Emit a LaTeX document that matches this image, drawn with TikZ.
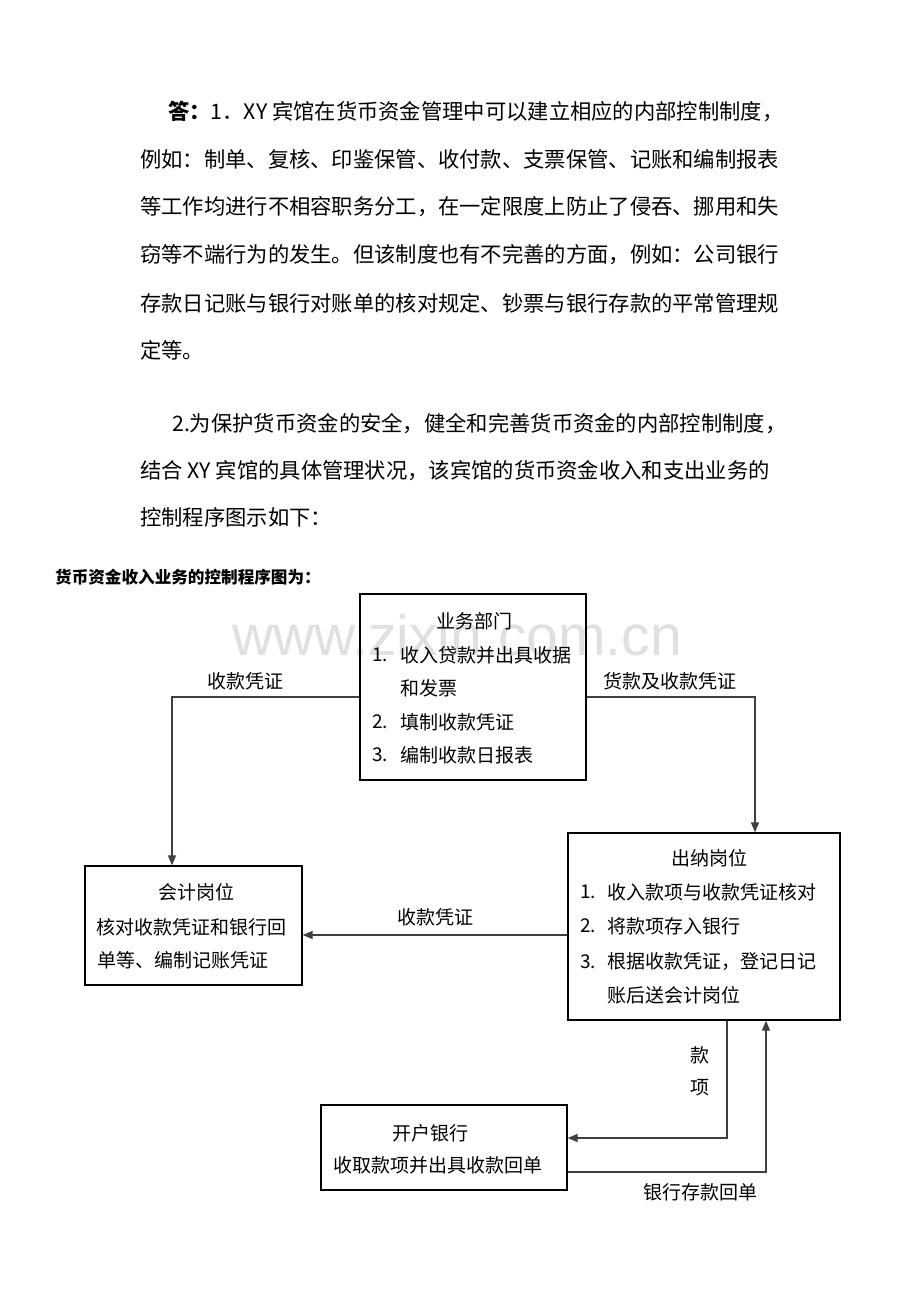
\documentclass[tikz,border=0pt]{standalone}
\usepackage{fontspec}
\setmainfont{Noto Sans CJK SC}
\newfontfamily\wmfont{Liberation Sans}
\usetikzlibrary{arrows.meta}
\begin{document}
\begin{tikzpicture}[x=1pt,y=-1pt,
  box/.style={draw=black, line width=1.3pt, inner sep=0pt, rectangle},
  txt/.style={inner sep=0pt, font=\fontsize{19}{19}\selectfont},
  para/.style={inner sep=0pt, anchor=west, font=\fontsize{21.3}{21.3}\selectfont},
  flow/.style={draw=black!75, line width=1.3pt, -{Triangle[length=10pt,width=8pt]}},
  lbl/.style={inner sep=0pt, font=\fontsize{19}{19}\selectfont}]
\fill[white] (0,0) rectangle (920,1302);
\useasboundingbox (0,0) rectangle (920,1302);

% watermark
\node[inner sep=0pt, text=black!12, font=\wmfont\fontsize{57}{57}\selectfont] (wm) at (457,635) {www.zixin.com.cn};

% paragraphs
\node[para] (p1) at (168,111) {\textbf{答：}1．XY 宾馆在货币资金管理中可以建立相应的内部控制制度，};
\node[para] (p2) at (140,159) {例如：制单、复核、印鉴保管、收付款、支票保管、记账和编制报表};
\node[para] (p3) at (140,207) {等工作均进行不相容职务分工，在一定限度上防止了侵吞、挪用和失};
\node[para] (p4) at (140,255) {窃等不端行为的发生。但该制度也有不完善的方面，例如：公司银行};
\node[para] (p5) at (140,303) {存款日记账与银行对账单的核对规定、钞票与银行存款的平常管理规};
\node[para] (p6) at (140,350) {定等。};
\node[para] (q1) at (172,424) {2.为保护货币资金的安全，健全和完善货币资金的内部控制制度，};
\node[para] (q2) at (140,471) {结合 XY 宾馆的具体管理状况，该宾馆的货币资金收入和支出业务的};
\node[para] (q3) at (140,517) {控制程序图示如下：};

% heading
\node[inner sep=0pt, anchor=west, font=\bfseries\fontsize{16.6}{16.6}\selectfont] (hd) at (55,577) {货币资金收入业务的控制程序图为：};

% boxes
\node[box, minimum width=226pt, minimum height=186pt] (yw) at (473,687) {};
\node[box, minimum width=272pt, minimum height=187pt] (cn) at (704,926.5) {};
\node[box, minimum width=217pt, minimum height=119pt] (kj) at (193.5,925.5) {};
\node[box, minimum width=246pt, minimum height=85pt] (kh) at (444,1147.5) {};

% text in 业务部门
\node[txt] (yw0) at (474,621) {业务部门};
\node[txt, anchor=west] (yw1n) at (372,655) {1.};
\node[txt, anchor=west] (yw1) at (400,655) {收入贷款并出具收据};
\node[txt, anchor=west] (yw1b) at (400,688) {和发票};
\node[txt, anchor=west] (yw2n) at (372,722) {2.};
\node[txt, anchor=west] (yw2) at (400,722) {填制收款凭证};
\node[txt, anchor=west] (yw3n) at (372,755) {3.};
\node[txt, anchor=west] (yw3) at (400,755) {编制收款日报表};

% text in 出纳岗位
\node[txt] (cn0) at (709,858) {出纳岗位};
\node[txt, anchor=west] (cn1n) at (580,892) {1.};
\node[txt, anchor=west] (cn1) at (607,892) {收入款项与收款凭证核对};
\node[txt, anchor=west] (cn2n) at (580,926) {2.};
\node[txt, anchor=west] (cn2) at (607,926) {将款项存入银行};
\node[txt, anchor=west] (cn3n) at (580,962) {3.};
\node[txt, anchor=west] (cn3) at (607,962) {根据收款凭证，登记日记};
\node[txt, anchor=west] (cn3b) at (607,995) {账后送会计岗位};

% text in 会计岗位
\node[txt] (kj0) at (196,892) {会计岗位};
\node[txt] (kj1) at (191,927) {核对收款凭证和银行回};
\node[txt, anchor=west] (kj2) at (97,960) {单等、编制记账凭证};

% text in 开户银行
\node[txt] (kh0) at (430,1133) {开户银行};
\node[txt] (kh1) at (438,1165) {收取款项并出具收款回单};

% connectors
\draw[flow] ([yshift=-10pt]yw.west) -| ([xshift=-21.5pt]kj.north);
\draw[flow] ([yshift=-10pt]yw.east) -| ([xshift=51pt]cn.north);
\draw[flow] ([yshift=-8.5pt]cn.west) -- ([yshift=-9.5pt]kj.east);
\draw[flow] ([xshift=23pt]cn.south) |- ([yshift=9.5pt]kh.east);
\draw[flow] ([yshift=-24.5pt]kh.east) -| ([xshift=62pt]cn.south);

% connector labels
\node[lbl] (l1) at (245,681) {收款凭证};
\node[lbl] (l2) at (670,681) {货款及收款凭证};
\node[lbl] (l3) at (435,917) {收款凭证};
\node[lbl] (l4) at (700,1055) {款};
\node[lbl] (l5) at (700,1088) {项};
\node[lbl] (l6) at (700,1192) {银行存款回单};
\end{tikzpicture}
\end{document}
